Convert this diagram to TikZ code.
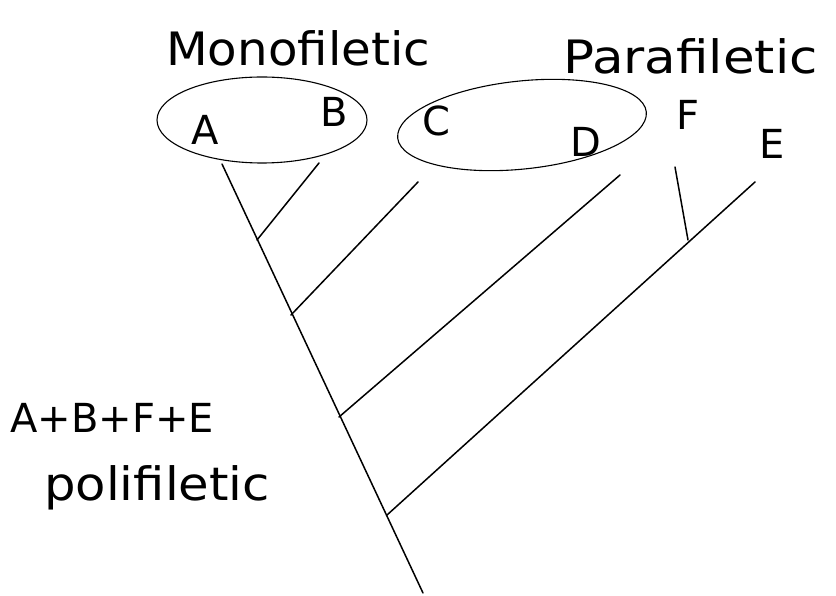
\documentclass[tikz,border=0pt]{standalone}
\usepackage{fontspec}
\setmainfont{DejaVu Sans}
\begin{document}
\begin{tikzpicture}[x=1pt,y=-1pt,
  branch/.style={line width=1.5pt, line cap=round},
  group/.style={line width=1.1pt},
  taxon/.style={font=\fontsize{40}{44}\selectfont, inner sep=0pt},
  note/.style={font=\fontsize{46}{50}\selectfont, inner sep=0pt, anchor=base west}]
\useasboundingbox (0,0) rectangle (836,596);

% group outlines
\draw[group] (262,120) ellipse [x radius=105, y radius=43];
\draw[group, rotate around={6:(522,125)}] (522,125) ellipse [x radius=125, y radius=44];

% taxa
\node[taxon] (A) at (205,130) {A};
\node[taxon] (B) at (334,112) {B};
\node[taxon] (C) at (436,121) {C};
\node[taxon] (D) at (586,142) {D};
\node[taxon] (F) at (688,115) {F};
\node[taxon] (E) at (772,144) {E};

% group names
\node[note, xscale=1.05, transform shape] (mono) at (166,66) {Monofiletic};
\node[note, xscale=1.12, transform shape] (para) at (563,74) {Parafiletic};
\node[note, font=\fontsize{40}{46}\selectfont] (sum) at (10,432) {A+B+F+E};
\node[note, xscale=1.08, transform shape] (poli) at (44,500) {polifiletic};

% trunk and branch points
\coordinate (top) at (222,164);
\coordinate (root) at (423,593);
\coordinate (jB) at (257,240);
\coordinate (jC) at (291,315);
\coordinate (jD) at (339,417);
\coordinate (jE) at (387,515);
\coordinate (jF) at (688,240);

% branch tips
\coordinate (tB) at (319,163);
\coordinate (tC) at (418,182);
\coordinate (tD) at (620,175);
\coordinate (tE) at (755,182);
\coordinate (tF) at (675,167);

\draw[branch] (top) -- (root);
\draw[branch] (jB) -- (tB);
\draw[branch] (jC) -- (tC);
\draw[branch] (jD) -- (tD);
\draw[branch] (jE) -- (tE);
\draw[branch] (jF) -- (tF);
\end{tikzpicture}
\end{document}
